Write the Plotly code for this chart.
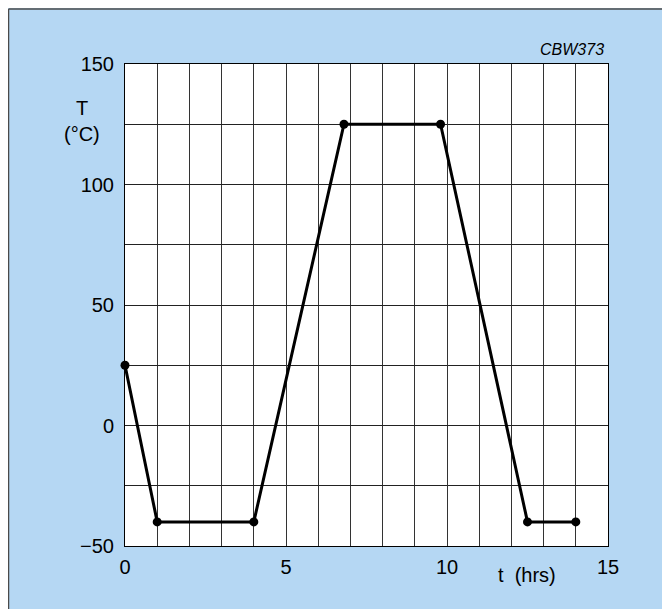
import plotly.graph_objects as go

# Data
t_hrs = [0, 1, 4, 6.8, 9.8, 12.5, 14]
temp_c = [25, -40, -40, 125, 125, -40, -40]
x_ticks = [0, 5, 10, 15]
y_ticks = [-50, 0, 50, 100, 150]
y_tick_text = ["\u221250", "0", "50", "100", "150"]

# page has an 8px body margin; coordinates below are in figure pixels
OFF = 8
W, H = 670, 609
L, R, T, B = 117, 70, 56, 71
pw, ph = W - L - R, H - T - B

def px(x):
    return (x - OFF - L) / pw

def py(y):
    return (H - B - (y - OFF)) / ph

BLUE = "#b5d7f3"
FONT = "Liberation Sans, Arial, Helvetica, sans-serif"

fig = go.Figure()
fig.add_trace(go.Scatter(
    x=t_hrs, y=temp_c, mode="lines+markers",
    line=dict(color="black", width=3),
    marker=dict(color="black", size=9),
    cliponaxis=False, showlegend=False, hoverinfo="skip",
))

fig.update_layout(
    width=W, height=H,
    margin=dict(l=L, r=R, t=T, b=B),
    paper_bgcolor=BLUE,
    plot_bgcolor="white",
    font=dict(family=FONT, color="black", size=20),
    xaxis=dict(
        range=[0, 15], tickvals=x_ticks, showgrid=True, gridcolor="#333", gridwidth=1,
        minor=dict(dtick=1, tick0=0, showgrid=True, gridcolor="#333", gridwidth=1),
        showline=True, linecolor="black", linewidth=1, mirror=True,
        zeroline=False, ticks="", ticklabelstandoff=3,
        tickfont=dict(size=20),
    ),
    yaxis=dict(
        range=[-50, 150], tickvals=y_ticks, ticktext=y_tick_text,
        showgrid=True, gridcolor="#222", gridwidth=1,
        minor=dict(dtick=25, tick0=0, showgrid=True, gridcolor="#222", gridwidth=1),
        showline=True, linecolor="black", linewidth=1, mirror=True,
        zeroline=False, ticks="", ticklabelstandoff=6,
        tickfont=dict(size=20),
    ),
    shapes=[
        dict(type="line", xref="paper", yref="paper", x0=px(8.5), x1=px(W + 20), y0=py(9), y1=py(9),
             line=dict(color="#4a4a4a", width=1.5)),
        dict(type="line", xref="paper", yref="paper", x0=px(8.5), x1=px(8.5), y0=py(9), y1=py(H + 20),
             line=dict(color="#4a4a4a", width=1.5)),
    ],
    annotations=[
        dict(text="<i>CBW373</i>", xref="paper", yref="paper", x=px(606), y=py(49),
             xanchor="right", yanchor="middle", showarrow=False,
             font=dict(size=16, family=FONT)),
        dict(text="T", xref="paper", yref="paper", x=px(81.5), y=py(108),
             xanchor="center", yanchor="middle", showarrow=False, font=dict(size=20)),
        dict(text="(°C)", xref="paper", yref="paper", x=px(81.5), y=py(134),
             xanchor="center", yanchor="middle", showarrow=False, font=dict(size=20)),
        dict(text="t  (hrs)", xref="paper", yref="paper", x=px(527), y=py(575),
             xanchor="center", yanchor="middle", showarrow=False, font=dict(size=20)),
    ],
)
fig.write_html("out.html")
